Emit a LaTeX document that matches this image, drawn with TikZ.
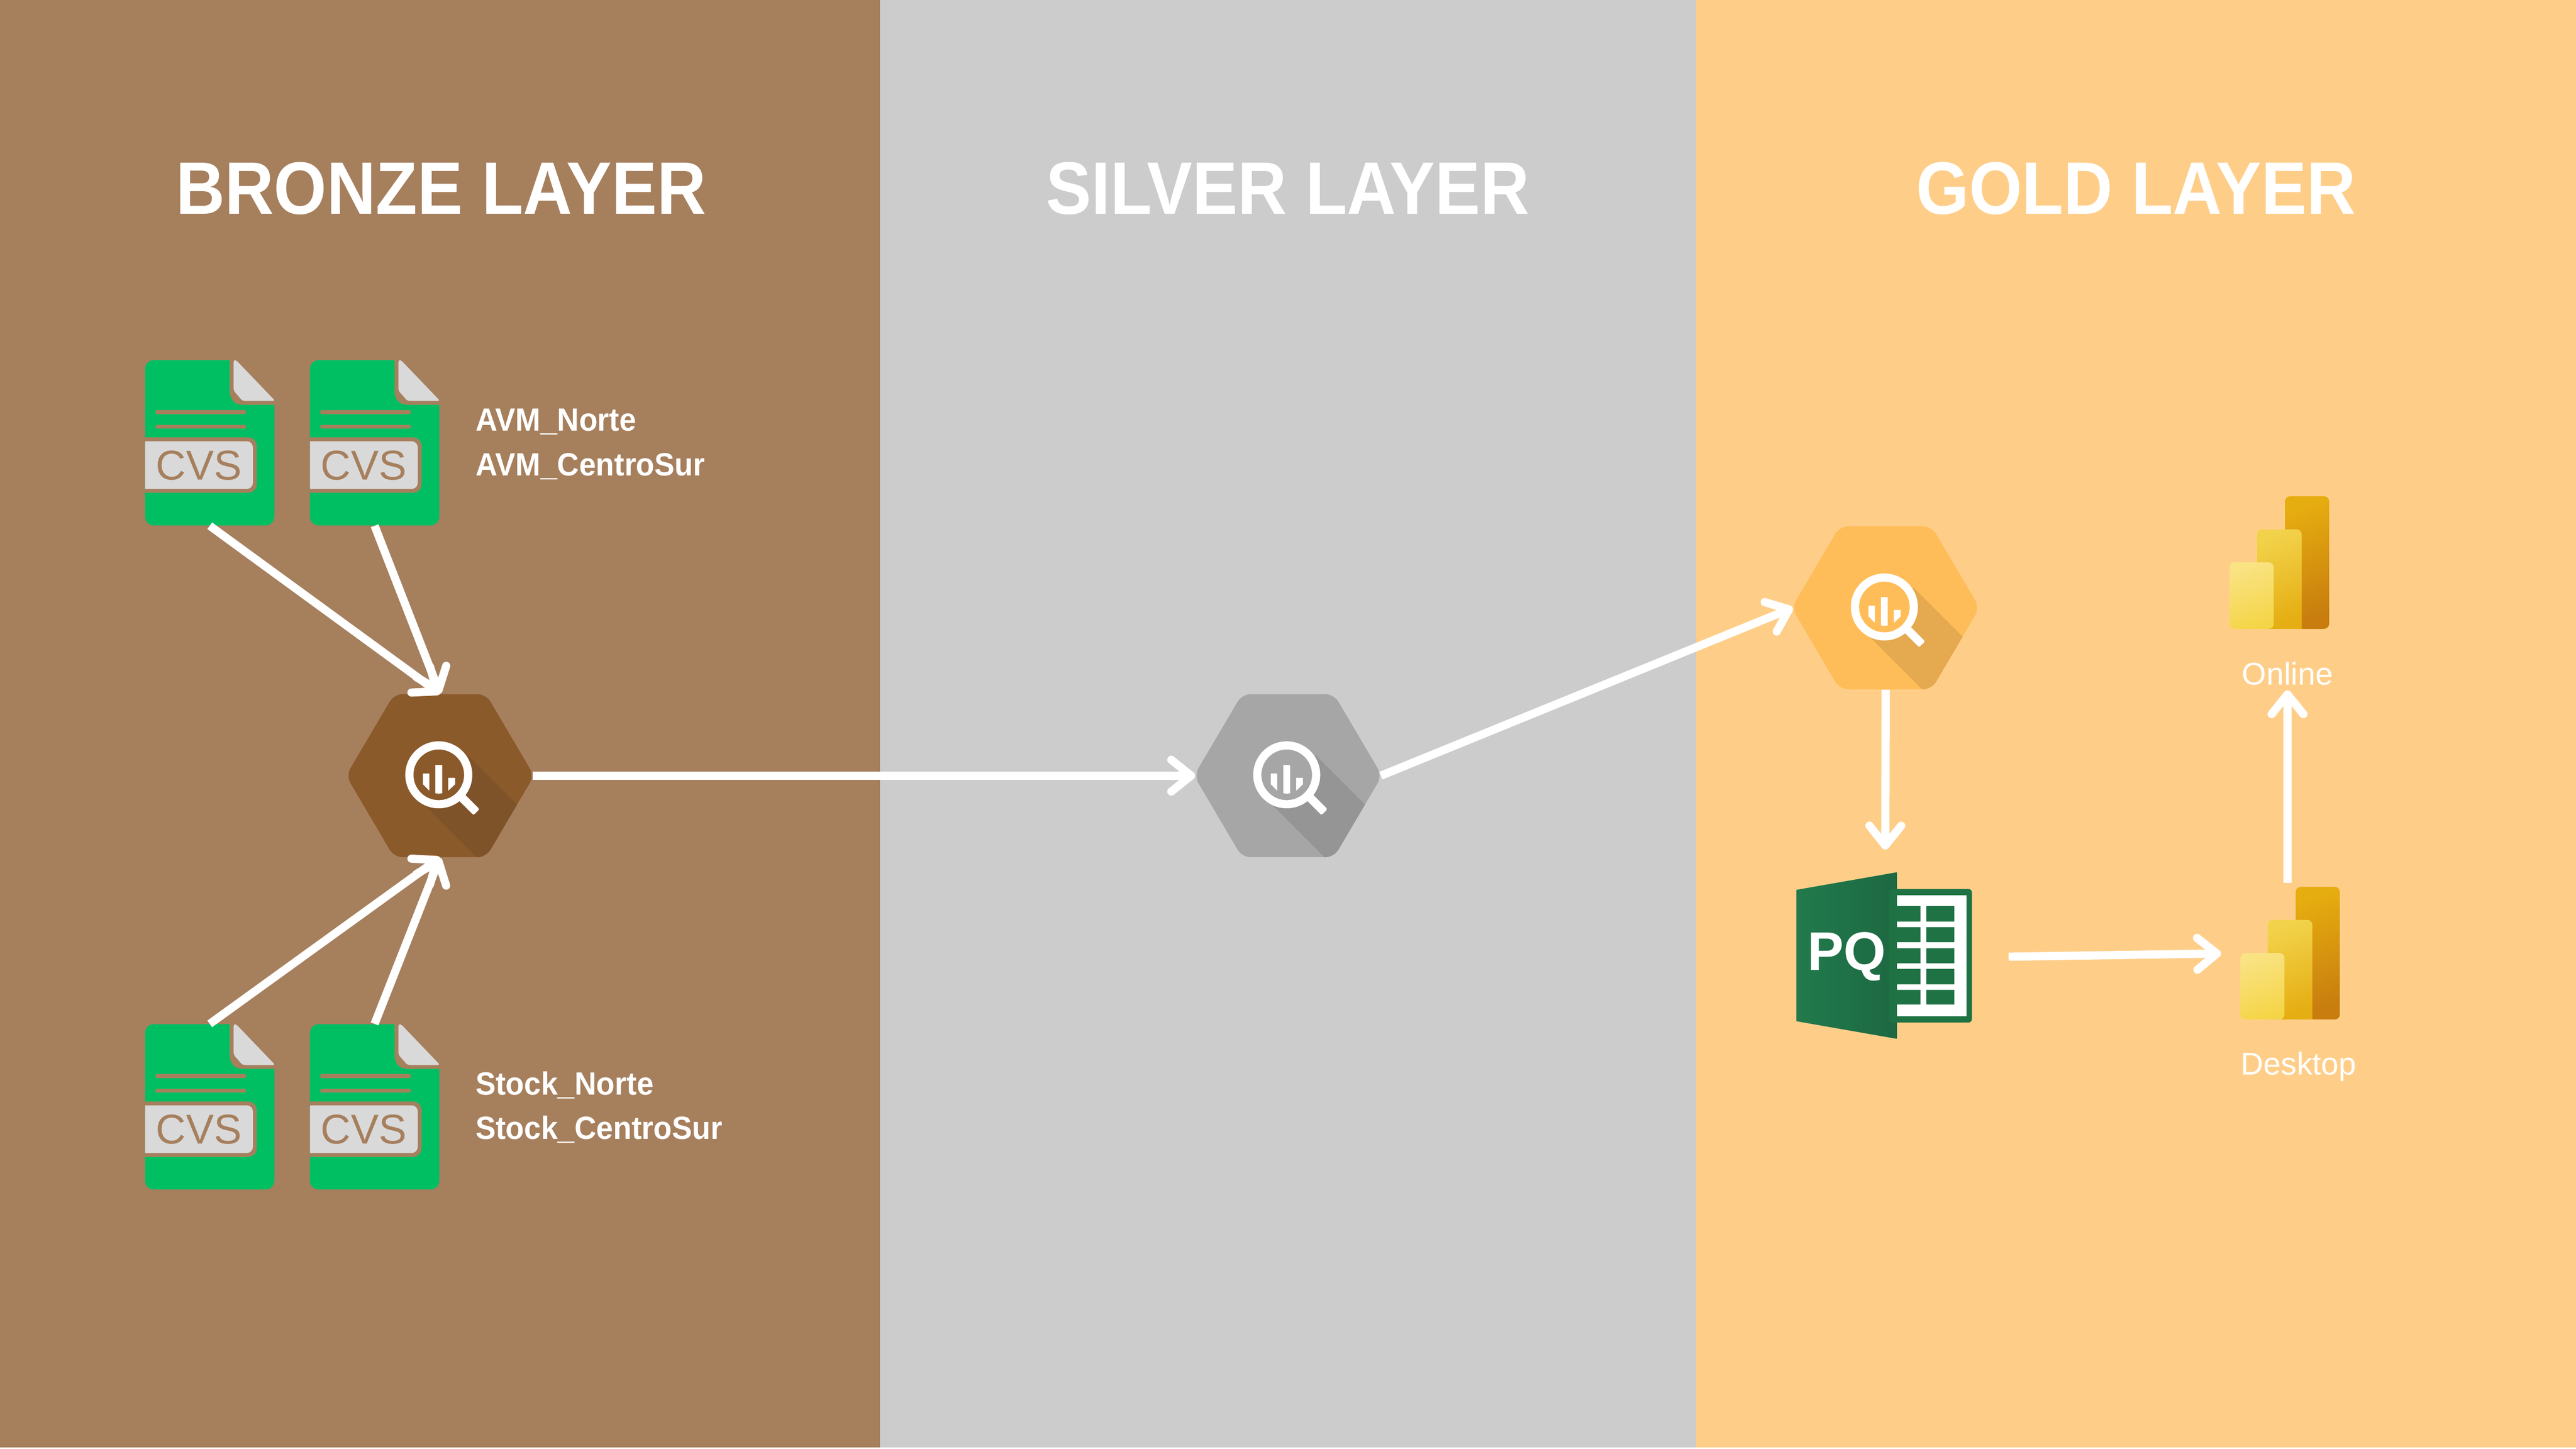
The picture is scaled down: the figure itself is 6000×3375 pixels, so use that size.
\documentclass[tikz,border=0pt]{standalone}
\usepackage{fontspec}
\setmainfont{Liberation Sans}
\newfontfamily\layerfont[FakeStretch=.915]{Liberation Sans}
\newfontfamily\sourcefont[FakeStretch=.94]{Liberation Sans}
\usetikzlibrary{arrows.meta,calc}
\definecolor{bronzebg}{HTML}{A67F5D}
\definecolor{silverbg}{HTML}{CCCCCC}
\definecolor{goldbg}{HTML}{FECE89}
\definecolor{csvgreen}{HTML}{00BF63}
\definecolor{csvgrey}{HTML}{D9D9D9}
\definecolor{pqgreen}{HTML}{1F7244}
\definecolor{pqlight}{HTML}{217A4C}
\definecolor{pqdark}{HTML}{1D6842}
\definecolor{bronzehexc}{HTML}{8B5A2B}
\definecolor{bronzeshade}{HTML}{7F5329}
\definecolor{silverhexc}{HTML}{A6A6A6}
\definecolor{silvershade}{HTML}{959595}
\definecolor{goldhexc}{HTML}{FFBD59}
\definecolor{goldshade}{HTML}{E5A950}
\definecolor{pbidarktop}{HTML}{E6AD10}
\definecolor{pbidarkbot}{HTML}{C87D0E}
\definecolor{pbimidtop}{HTML}{F2D24A}
\definecolor{pbimidbot}{HTML}{E5AE13}
\definecolor{pbilighttop}{HTML}{F9E383}
\definecolor{pbilightbot}{HTML}{F5D548}
\tikzset{
  layertitle/.style={text=white,anchor=base,font=\layerfont\bfseries\fontsize{49.2}{54}\selectfont},
  sourcelabel/.style={text=white,anchor=base west,inner sep=0,font=\sourcefont\bfseries\fontsize{21.3}{25}\selectfont},
  toollabel/.style={text=white,anchor=base,font=\fontsize{20.8}{24}\selectfont},
  flow/.style={draw=white,line width=.19cm,-{Straight Barb[length=.46cm,width=.74cm,line width=.19cm,round]}},
  pics/csvdoc/.style={code={
    \node[inner sep=0,minimum width=3.01cm,minimum height=3.85cm] (-box) at (150.5,192.5) {};
    \fill[csvgreen] (197,0) -- (197,71) .. controls (197,91) and (207,104) .. (227,104) -- (301,104)
      {[rounded corners=.2cm] -- (301,385) -- (0,385) -- (0,0)} -- cycle;
    \fill[csvgrey,rounded corners=.05cm] (206,0) -- (212,0) -- (303,95) -- (227,95) -- (206,71) -- cycle;
    \draw[bronzebg,line width=.09cm,line cap=round] (28,121) -- (231,121) (28,155) -- (231,155);
    \fill[bronzebg] (0,180) {[rounded corners=.2cm] -- (260,180) -- (260,309)} -- (0,309) -- cycle;
    \fill[csvgrey] (0,189) {[rounded corners=.14cm] -- (251,189) -- (251,300)} -- (0,300) -- cycle;
    \node[text=bronzebg,inner sep=0,font=\fontsize{27.6}{30}\selectfont] (-cvs) at (125,245) {CVS};
  }},
  pics/bqhex/.style 2 args={code={
    \node[inner sep=0,minimum width=4.31cm,minimum height=3.8cm] (-box) at (0,0) {};
    \fill[#1,rounded corners=.2cm] (-219,0) -- (-107,-190) -- (107,-190) -- (219,0) -- (107,190) -- (-107,190) -- cycle;
    \begin{scope}
      \clip[rounded corners=.2cm] (-219,0) -- (-107,-190) -- (107,-190) -- (219,0) -- (107,190) -- (-107,190) -- cycle;
      \fill[#2] (65,-47) -- (265,153) -- (265,242) -- (137,242) -- (-42,63) -- cycle;
    \end{scope}
    \fill[#1] (-3,-2) circle[radius=.6cm];
    \fill[white,even odd rule] (-3,-2) circle[radius=.78cm] circle[radius=.59cm];
    \fill[white,rounded corners=.04cm] (52,38) -- (92,78) -- (78,92) -- (38,52) -- cycle;
    \fill[white] (-40,-5) -- (-25,-5) -- (-25,35) -- (-40,20) -- cycle;
    \fill[white] (-11,-25) -- (5,-25) -- (5,41) -- (-3,42) -- (-11,41) -- cycle;
    \fill[white] (19,5) -- (35,5) -- (35,20) -- (19,35) -- cycle;
  }},
  pics/pbibars/.style={code={
    \node[inner sep=0,minimum width=2.32cm,minimum height=3.09cm] (-box) at (116,154.5) {};
    \shade[top color=pbidarktop,bottom color=pbidarkbot,shading angle=20,rounded corners=.12cm] (129,0) rectangle (232,309);
    \shade[top color=pbimidtop,bottom color=pbimidbot,shading angle=20] (64,309) [rounded corners=.12cm] -- (64,77) -- (168,77) [sharp corners] -- (168,309) -- cycle;
    \shade[top color=pbilighttop,bottom color=pbilightbot,shading angle=20,rounded corners=.12cm] (0,154) rectangle (103,309);
  }},
}
\begin{document}
\begin{tikzpicture}[x=.01cm,y=-.01cm]
  \useasboundingbox (0,0) rectangle (6000,3375);
  \fill[white] (0,0) rectangle (6000,3375);
  \fill[bronzebg] (0,0) rectangle (2050,3372);
  \fill[silverbg] (2050,0) rectangle (3950,3372);
  \fill[goldbg] (3950,0) rectangle (6000,3372);

  \node[layertitle] (bronzetitle) at (1027,498) {BRONZE LAYER};
  \node[layertitle] (silvertitle) at (3000,498) {SILVER LAYER};
  \node[layertitle] (goldtitle) at (4975,498) {GOLD LAYER};

  % source files
  \pic (avmnorte) at (338,839) {csvdoc};
  \pic (avmsur) at (722,839) {csvdoc};
  \pic (stocknorte) at (338,2386) {csvdoc};
  \pic (stocksur) at (722,2386) {csvdoc};
  \node[sourcelabel] (avmnortelabel) at (1107,1004) {AVM\_Norte};
  \node[sourcelabel] (avmsurlabel) at (1107,1108) {AVM\_CentroSur};
  \node[sourcelabel] (stocknortelabel) at (1107,2550) {Stock\_Norte};
  \node[sourcelabel] (stocksurlabel) at (1107,2654) {Stock\_CentroSur};

  % one hexagon per layer
  \pic (bronzehex) at (1025,1807) {bqhex={bronzehexc}{bronzeshade}};
  \pic (silverhex) at (3000,1807) {bqhex={silverhexc}{silvershade}};
  \pic (goldhex) at (4392,1416) {bqhex={goldhexc}{goldshade}};

  % power query
  \shade[left color=pqlight,right color=pqdark] (4184,2073) -- (4418,2032) -- (4418,2420) -- (4184,2379) -- cycle;
  \fill[pqgreen,rounded corners=.08cm] (4400,2071) rectangle (4593,2382);
  \fill[white] (4418,2085) rectangle (4580,2368);
  \fill[pqgreen]
    (4418,2111) rectangle (4473,2147) (4487,2111) rectangle (4552,2147)
    (4418,2160) rectangle (4473,2195) (4487,2160) rectangle (4552,2195)
    (4418,2209) rectangle (4473,2244) (4487,2209) rectangle (4552,2244)
    (4418,2257) rectangle (4473,2293) (4487,2257) rectangle (4552,2293)
    (4418,2306) rectangle (4473,2340) (4487,2306) rectangle (4552,2340);
  \node[inner sep=0,minimum width=4.09cm,minimum height=3.88cm] (pq) at (4391,2230) {};
  \node[text=white,inner sep=0,font=\bfseries\fontsize{36}{40}\selectfont] (pqtext) at (4301,2228) {PQ};

  % power bi
  \pic (desktop) at (5218,2066) {pbibars};
  \pic (online) at (5193,1156) {pbibars};
  \node[toollabel] (desktoplabel) at (5354,2504) {Desktop};
  \node[toollabel] (onlinelabel) at (5328,1595) {Online};

  \draw[flow] (avmnorte-box.south) -- (bronzehex-box.north);
  \draw[flow] (avmsur-box.south) -- (bronzehex-box.north);
  \draw[flow] (stocknorte-box.north) -- (bronzehex-box.south);
  \draw[flow] (stocksur-box.north) -- (bronzehex-box.south);
  \draw[flow] (bronzehex-box.east) -- (silverhex-box.west);
  \draw[flow] (silverhex-box.east) -- (goldhex-box.west);
  \draw[flow,shorten >=.56cm] (goldhex-box.south) -- (pq.north);
  \draw[flow,shorten <=.82cm,shorten >=.44cm] (pq.east) -- (desktop-box.west);
  \draw[flow,shorten <=.09cm] (desktop-box.north -| onlinelabel) -- (onlinelabel.south);
\end{tikzpicture}
\end{document}
